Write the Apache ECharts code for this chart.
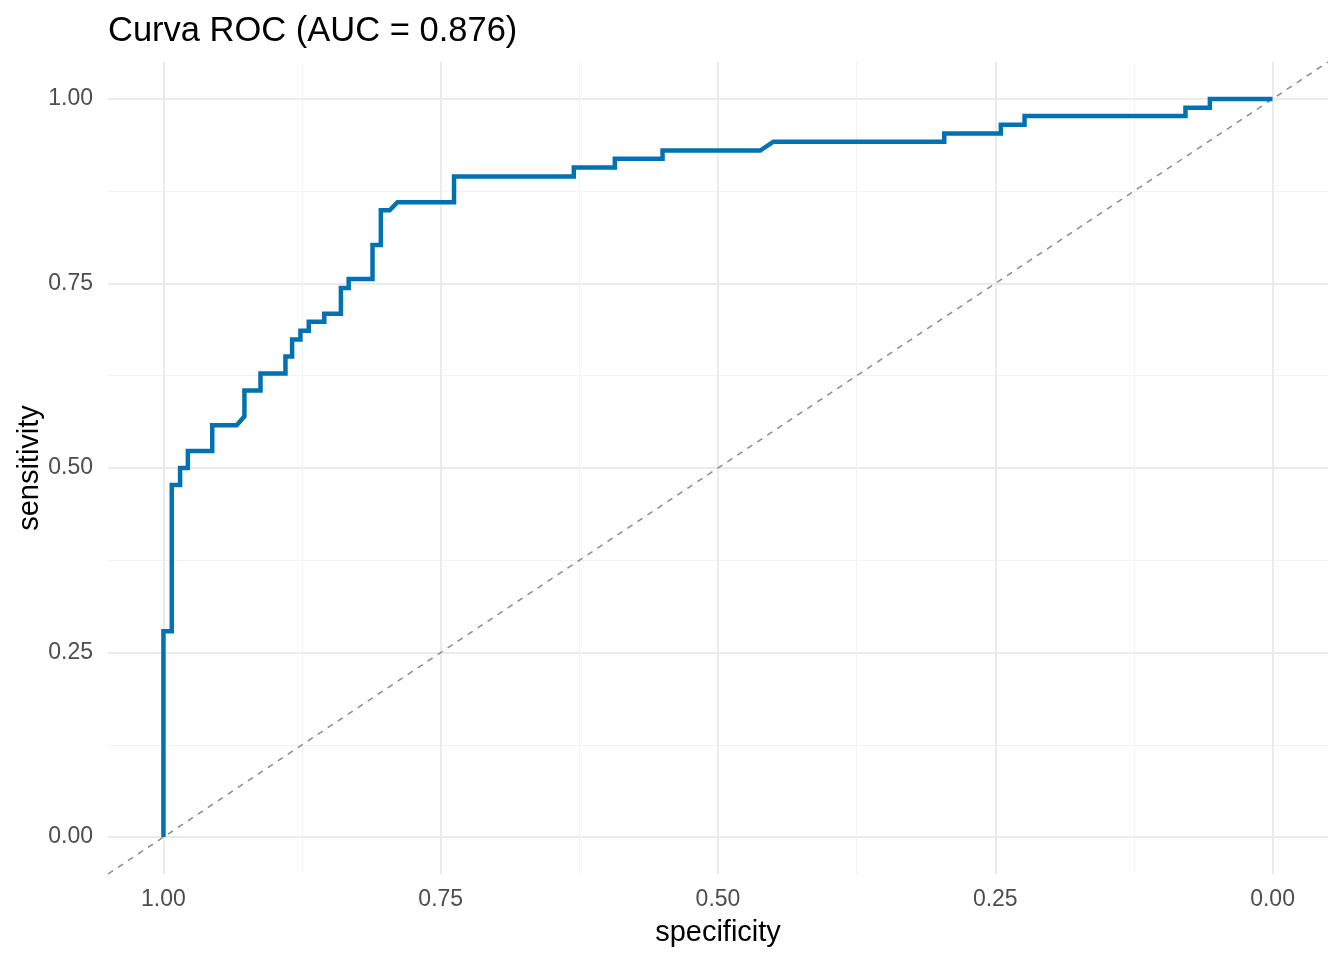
<!DOCTYPE html>
<html>
<head>
<meta charset="utf-8">
<script src="https://cdn.jsdelivr.net/npm/echarts@6/dist/echarts.min.js"></script>
<style>
  html, body { margin: 0; padding: 0; background: #fff; }
  #chart { width: 1344px; height: 960px; }
</style>
</head>
<body>
<div id="chart"></div>
<script>
// ROC curve vertices (step path)
const specificity = [
  1.000, 1.000, 0.9925, 0.9925, 0.985, 0.985, 0.978, 0.978, 0.956, 0.956,
  0.934, 0.927, 0.927, 0.9125, 0.9125, 0.890, 0.890, 0.884, 0.884, 0.8765,
  0.8765, 0.869, 0.869, 0.855, 0.855, 0.840, 0.840, 0.833, 0.833, 0.8115,
  0.8115, 0.804, 0.804, 0.796, 0.789, 0.738, 0.738, 0.630, 0.630, 0.593,
  0.593, 0.550, 0.550, 0.462, 0.450, 0.296, 0.296, 0.245, 0.245, 0.2236,
  0.2236, 0.0785, 0.0785, 0.0565, 0.0565, 0.000,
];
const sensitivity = [
  0.000, 0.279, 0.279, 0.477, 0.477, 0.500, 0.500, 0.523, 0.523, 0.558,
  0.558, 0.570, 0.605, 0.605, 0.628, 0.628, 0.651, 0.651, 0.674, 0.674,
  0.686, 0.686, 0.698, 0.698, 0.709, 0.709, 0.744, 0.744, 0.756, 0.756,
  0.802, 0.802, 0.849, 0.849, 0.860, 0.860, 0.895, 0.895, 0.907, 0.907,
  0.919, 0.919, 0.930, 0.930, 0.942, 0.942, 0.953, 0.953, 0.965, 0.965,
  0.977, 0.977, 0.988, 0.988, 1.000, 1.000,
];
const majorTicks = [0, 0.25, 0.5, 0.75, 1];
const minorTicks = [0.125, 0.375, 0.625, 0.875];
const axisMin = -0.05;
const axisMax = 1.05;
const titleText = 'Curva ROC (AUC = 0.876)';

const FONT = '"Liberation Sans", Arial, sans-serif';
const COLORS = {
  curve: '#0072B2',
  diag: '#8C8C8C',
  gridMajor: '#EBEBEB',
  gridMinor: '#F2F2F2',
  tickLabel: '#4D4D4D',
};

function tickLabel(margin) {
  return {
    customValues: majorTicks,
    formatter: v => v.toFixed(2),
    color: COLORS.tickLabel,
    fontFamily: FONT,
    fontSize: 23,
    margin: margin,
  };
}

function majorAxis(extra) {
  return Object.assign({
    type: 'value',
    min: axisMin,
    max: axisMax,
    axisLine: { show: false },
    axisTick: { show: false, customValues: majorTicks },
    splitLine: { show: true, lineStyle: { color: COLORS.gridMajor, width: 2 } },
    nameTextStyle: { color: '#000', fontFamily: FONT, fontSize: 29 },
    nameLocation: 'middle',
    nameMoveOverlap: false,
  }, extra);
}

function minorAxis(extra) {
  return Object.assign({
    type: 'value',
    min: axisMin,
    max: axisMax,
    axisLine: { show: false },
    axisTick: { show: false, customValues: minorTicks },
    axisLabel: { show: false, customValues: minorTicks },
    splitLine: { show: true, lineStyle: { color: COLORS.gridMinor, width: 1 } },
  }, extra);
}

const chart = echarts.init(document.getElementById('chart'));

chart.setOption({
  animation: false,
  backgroundColor: '#fff',
  title: {
    text: titleText,
    left: 103,
    top: 9,
    textStyle: { color: '#000', fontFamily: FONT, fontSize: 34.5, fontWeight: 'normal' },
  },
  grid: { left: 108, right: 16, top: 62, bottom: 86, containLabel: false, outerBoundsMode: 'none' },
  xAxis: [
    majorAxis({ inverse: true, position: 'bottom', name: 'specificity', nameGap: 44,
      axisLabel: tickLabel(14) }),
    minorAxis({ inverse: true, position: 'top' }),
  ],
  yAxis: [
    majorAxis({ position: 'left', name: 'sensitivity', nameGap: 64,
      axisLabel: tickLabel(15) }),
    minorAxis({ position: 'right' }),
  ],
  series: [
    {
      name: 'diagonal',
      type: 'line',
      xAxisIndex: 0,
      yAxisIndex: 0,
      data: [[axisMax, 1 - axisMax], [axisMin, 1 - axisMin]],
      symbol: 'none',
      silent: true,
      lineStyle: { color: COLORS.diag, width: 1.5, type: [6, 6] },
      z: 2,
    },
    {
      name: 'ROC',
      type: 'line',
      xAxisIndex: 0,
      yAxisIndex: 0,
      data: specificity.map((s, i) => [s, sensitivity[i]]),
      symbol: 'none',
      lineStyle: { color: COLORS.curve, width: 4.5, join: 'miter' },
      z: 3,
    },
  ],
});
</script>
</body>
</html>
